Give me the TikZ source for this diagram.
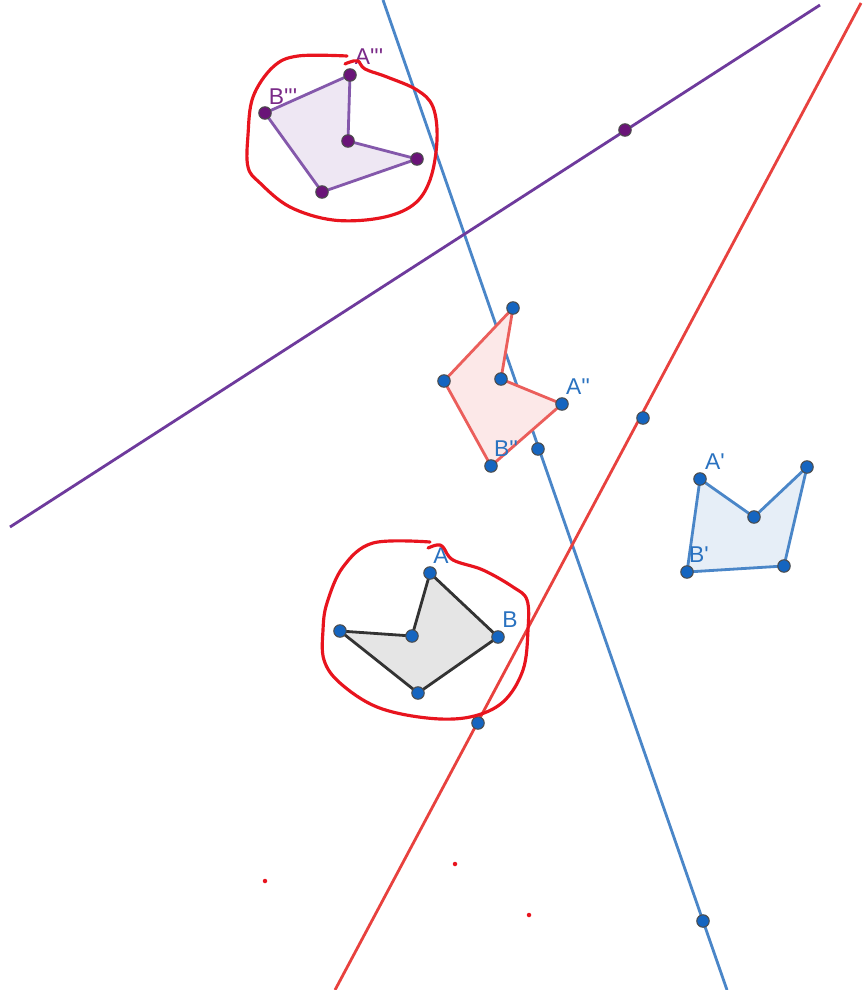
\documentclass[tikz,border=0pt]{standalone}
\usepackage{fontspec}
\setmainfont{Liberation Sans}
\usetikzlibrary{positioning}
\definecolor{LineBlue}{HTML}{4A86C8}
\definecolor{LineRed}{HTML}{E8413E}
\definecolor{LinePurple}{HTML}{6E3A9C}
\definecolor{PtBlue}{HTML}{1565C0}
\definecolor{PtPurple}{HTML}{6A1478}
\definecolor{LabBlue}{HTML}{2A72C0}
\definecolor{LabPurple}{HTML}{7A2A88}
\definecolor{Ink}{HTML}{E8141E}
\newcommand{\pr}{\textquotesingle}

\begin{document}
\begin{tikzpicture}[
  x=0.02cm,y=-0.02cm,
  geoline/.style={line width=1.6pt},
  polygray/.style={draw=black!80,fill=black!10,line width=1.6pt,line join=round},
  polyblue/.style={draw=LineBlue,fill=LineBlue!14,line width=1.6pt,line join=round},
  polyred/.style={draw=LineRed!85,fill=LineRed!12,line width=1.6pt,line join=round},
  polypurple/.style={draw=LinePurple!85,fill=LinePurple!12,line width=1.6pt,line join=round},
  ptblue/.style={circle,draw=black!70,fill=PtBlue,inner sep=0pt,minimum size=0.25cm,line width=0.6pt},
  ptpurple/.style={circle,draw=black!70,fill=PtPurple,inner sep=0pt,minimum size=0.25cm,line width=0.6pt},
  labblue/.style={text=LabBlue,font=\fontsize{13}{15}\selectfont,inner sep=0pt},
  labpurple/.style={text=LabPurple,font=\fontsize{13}{15}\selectfont,inner sep=0pt},
  ink/.style={draw=Ink,line width=1.8pt,line cap=round,line join=round},
  dot/.style={circle,fill=Ink,inner sep=0pt,minimum size=0.09cm}
]
\useasboundingbox (0,0) rectangle (863,990);
\fill[white] (0,0) rectangle (863,990);

% the three lines
\coordinate (bl1) at (383,0);
\coordinate (bl2) at (727,990);
\coordinate (rl1) at (861,3);
\coordinate (rl2) at (335,990);
\coordinate (pl1) at (10,527);
\coordinate (pl2) at (820,5);
\draw[geoline,LineBlue] (bl1) -- (bl2);
\draw[geoline,LineRed] (rl1) -- (rl2);
\draw[geoline,LinePurple] (pl1) -- (pl2);

% polygon vertices
\coordinate (A) at (430,573);
\coordinate (B) at (498,637);
\coordinate (C) at (418,693);
\coordinate (D) at (340,631);
\coordinate (E) at (412,636);

\coordinate (A1) at (700,479);
\coordinate (E1) at (754,517);
\coordinate (D1) at (807,467);
\coordinate (C1) at (784,566);
\coordinate (B1) at (687,572);

\coordinate (A2) at (562,404);
\coordinate (E2) at (501,379);
\coordinate (D2) at (513,308);
\coordinate (C2) at (444,381);
\coordinate (B2) at (491,466);

\coordinate (A3) at (350,75);
\coordinate (E3) at (348,141);
\coordinate (D3) at (417,159);
\coordinate (C3) at (322,192);
\coordinate (B3) at (265,113);

\draw[polygray] (A) -- (B) -- (C) -- (D) -- (E) -- cycle;
\draw[polyblue] (A1) -- (E1) -- (D1) -- (C1) -- (B1) -- cycle;
\draw[polyred] (D2) -- (E2) -- (A2) -- (B2) -- (C2) -- cycle;
\draw[polypurple] (A3) -- (E3) -- (D3) -- (C3) -- (B3) -- cycle;

% points
\foreach \p in {A,B,C,D,E,A1,B1,C1,D1,E1,A2,B2,C2,D2,E2}
  \node[ptblue] (p\p) at (\p) {};
\foreach \p in {A3,B3,C3,D3,E3}
  \node[ptpurple] (p\p) at (\p) {};
\node[ptblue] (rp1) at (643,418) {};
\node[ptblue] (rp2) at (478,723) {};
\node[ptblue] (bp1) at (538,449) {};
\node[ptblue] (bp2) at (703,921) {};
\node[ptpurple] (pp1) at (625,130) {};

% labels
\node[labblue] (lA) at (441,556) {A};
\node[labblue] (lB) at (510,620) {B};
\node[labblue] (lA1) at (715,462) {A\pr};
\node[labblue] (lB1) at (699,555) {B\pr};
\node[labblue] (lA2) at (578,387) {A\pr\pr};
\node[labblue] (lB2) at (506,449) {B\pr\pr};
\node[labpurple] (lA3) at (369,57) {A\pr\pr\pr};
\node[labpurple] (lB3) at (283,97) {B\pr\pr\pr};

% hand drawn rings
\draw[ink] plot[smooth,tension=0.6] coordinates {(347,56) (298,56) (273,67) (253,97) (248,135) (248,167) (260,183) (290,207) (333,220) (380,218) (413,205) (430,180) (437,140) (433,107) (417,90) (387,77) (365,69) (358,61) (350,62) (345,64)};
\draw[ink] plot[smooth,tension=0.6] coordinates {(430,542) (373,543) (343,567) (327,603) (323,630) (324,660) (340,683) (377,707) (427,718) (470,717) (503,702) (523,670) (528,630) (527,600) (513,587) (483,570) (453,560) (443,547) (437,545) (428,548)};
\node[dot] (d1) at (265,881) {};
\node[dot] (d2) at (455,864) {};
\node[dot] (d3) at (529,915) {};
\end{tikzpicture}
\end{document}
